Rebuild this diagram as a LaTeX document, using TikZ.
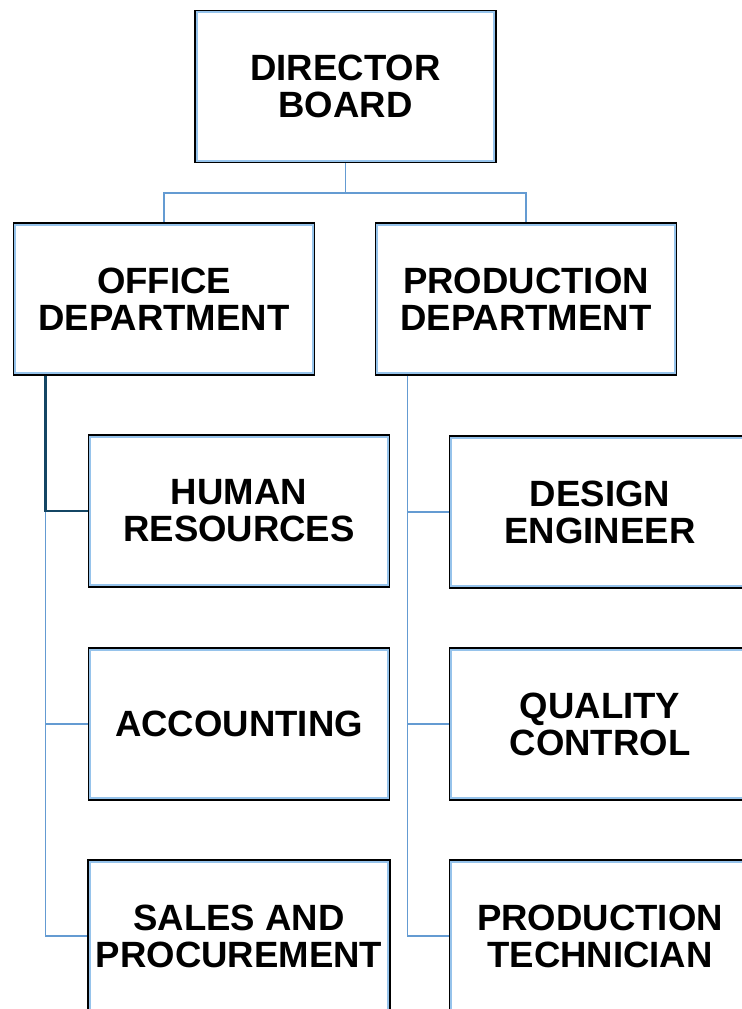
\documentclass[tikz,border=0pt]{standalone}
\usepackage{fontspec}
\setmainfont{Liberation Sans}
\usetikzlibrary{positioning}
\definecolor{lineblue}{RGB}{100,155,210}
\definecolor{edgeblue}{RGB}{150,195,235}
\definecolor{darkline}{RGB}{20,70,100}
\tikzstyle{unit} = [rectangle, minimum width=5.95cm, minimum height=2.97cm, align=center, text centered, font=\bfseries\fontsize{20.8}{21}\selectfont, preaction={draw=black, line width=3.07pt}, draw=edgeblue, line width=1.37pt, fill=white, outer sep=0.054cm]
\tikzstyle{link} = [draw=lineblue, line width=1.05pt]
\tikzstyle{mainlink} = [draw=darkline, line width=1.4pt]

\begin{document}
\begin{tikzpicture}[x=0.02cm, y=-0.02cm]
					\useasboundingbox (0,0) rectangle (742,1009);
					\node[unit] (director) at (345.5,86.5) {DIRECTOR\\BOARD};
					\node[unit] (office) at (164,299) {OFFICE\\DEPARTMENT};
					\node[unit] (production) at (526,299) {PRODUCTION\\DEPARTMENT};
					\node[unit] (hr) at (239,511) {HUMAN\\RESOURCES};
					\node[unit] (accounting) at (239,724) {ACCOUNTING};
					\node[unit] (sales) at (239,936) {SALES AND\\PROCUREMENT};
					\node[unit] (design) at (600,512) {DESIGN\\ENGINEER};
					\node[unit] (quality) at (600,724) {QUALITY\\CONTROL};
					\node[unit] (technician) at (600,936) {PRODUCTION\\TECHNICIAN};
					\coordinate (bus) at (345.5,193);
					\coordinate (officetrunk) at ([xshift=0.66cm]office.south west);
					\coordinate (productiontrunk) at ([xshift=0.66cm]production.south west);
					\draw[link] (director) -- (bus);
					\draw[link] (office) |- (bus);
					\draw[link] (production) |- (bus);
					\draw[link] (officetrunk) |- (sales.west);
					\draw[link] (officetrunk |- accounting.west) -- (accounting.west);
					\draw[mainlink] (officetrunk) |- (hr.west);
					\draw[link] (productiontrunk) |- (technician.west);
					\draw[link] (productiontrunk |- quality.west) -- (quality.west);
					\draw[link] (productiontrunk |- design.west) -- (design.west);
				\end{tikzpicture}
\end{document}
